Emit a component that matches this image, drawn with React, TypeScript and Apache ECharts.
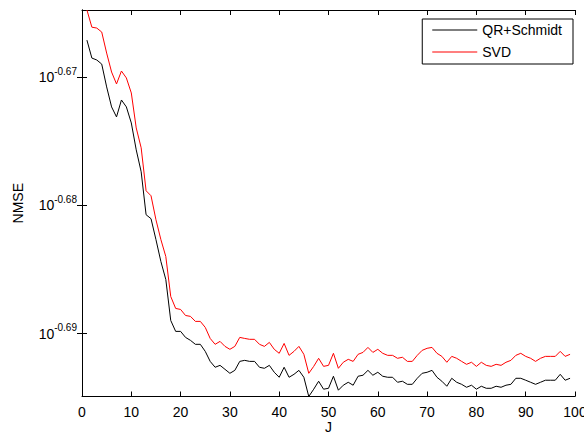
import React, { useEffect, useRef } from "react";
import * as echarts from "echarts";

// log10(NMSE), J = 1..99
const qrSchmidtLog10 = [
  -0.6671, -0.6685, -0.66865, -0.66897, -0.67075, -0.67231, -0.67309, -0.67177, -0.67231, -0.67356,
  -0.67566, -0.67737, -0.68072, -0.68103, -0.68266, -0.68437, -0.68577, -0.68897, -0.68982, -0.68982,
  -0.69029, -0.69052, -0.69083, -0.69083, -0.69138, -0.69216, -0.69262, -0.69247, -0.69278, -0.69309,
  -0.69286, -0.69216, -0.69208, -0.69216, -0.69216, -0.69262, -0.6927, -0.69247, -0.69301, -0.6934,
  -0.69262, -0.6934, -0.69317, -0.69286, -0.6934, -0.6949, -0.69433, -0.69371, -0.69433, -0.69426,
  -0.69332, -0.69441, -0.69402, -0.69379, -0.69402, -0.69332, -0.69324, -0.69286, -0.69324, -0.69301,
  -0.69332, -0.6934, -0.6934, -0.69379, -0.69371, -0.69395, -0.69395, -0.69348, -0.69309, -0.69301,
  -0.69286, -0.6934, -0.69371, -0.6941, -0.69348, -0.69379, -0.69395, -0.69418, -0.69402, -0.69433,
  -0.6941, -0.69426, -0.69426, -0.6941, -0.69418, -0.69402, -0.69395, -0.69348, -0.69348, -0.69363,
  -0.69379, -0.69395, -0.69379, -0.69363, -0.69363, -0.69363, -0.69317, -0.69363, -0.69348,
];

const svdLog10 = [
  -0.66475, -0.66609, -0.66616, -0.66647, -0.66811, -0.66959, -0.67052, -0.66951, -0.67005, -0.67122,
  -0.67395, -0.6755, -0.67885, -0.67924, -0.68111, -0.68266, -0.68398, -0.6871, -0.68803, -0.68811,
  -0.68858, -0.68865, -0.68904, -0.68904, -0.68951, -0.69037, -0.69083, -0.6906, -0.69099, -0.69122,
  -0.69099, -0.69029, -0.69037, -0.69044, -0.69044, -0.69083, -0.69099, -0.69068, -0.69122, -0.69153,
  -0.69076, -0.69169, -0.69138, -0.69099, -0.69161, -0.69309, -0.69255, -0.69192, -0.69255, -0.69247,
  -0.69153, -0.6927, -0.69223, -0.692, -0.69216, -0.69161, -0.69146, -0.69107, -0.69146, -0.69122,
  -0.69153, -0.69169, -0.69169, -0.69192, -0.69184, -0.69216, -0.69216, -0.69169, -0.6913, -0.69114,
  -0.69107, -0.69153, -0.69177, -0.69223, -0.69177, -0.69192, -0.69216, -0.69239, -0.69223, -0.69255,
  -0.69223, -0.69247, -0.69255, -0.69239, -0.69247, -0.69223, -0.69208, -0.69169, -0.69153, -0.69177,
  -0.69192, -0.69216, -0.69192, -0.69177, -0.69177, -0.69177, -0.69138, -0.69177, -0.69161,
];

const jValues = qrSchmidtLog10.map((_, i) => i + 1);
const yTickExponents = [-0.69, -0.68, -0.67];
const seriesNames = ["QR+Schmidt", "SVD"];

const FONT = "'Liberation Sans', Arial, Helvetica, sans-serif";

export default function App() {
  const ref = useRef<HTMLDivElement>(null);

  useEffect(() => {
    if (!ref.current) return;
    const chart = echarts.init(ref.current, undefined, { renderer: "svg" });
    const yMin = -0.6949;
    const yMax = -0.66475;
    const axisLine = { show: true, lineStyle: { color: "#000", width: 1 } };
    const tick = { show: true, inside: true, length: 5, lineStyle: { color: "#000", width: 1 } };
    chart.setOption({
      animation: false,
      backgroundColor: "#fff",
      grid: { left: 82, right: 9, top: 10, bottom: 36.5, containLabel: false, outerBoundsMode: "none" },
      legend: {
        data: seriesNames,
        orient: "vertical",
        right: 11,
        top: 19,
        padding: [4, 11, 5, 10],
        icon: "rect",
        itemWidth: 45,
        itemHeight: 1,
        itemGap: 8,
        borderColor: "#000",
        borderWidth: 1,
        backgroundColor: "#fff",
        textStyle: { fontSize: 14, lineHeight: 14, color: "#000", fontFamily: FONT },
      },
      xAxis: [
        {
          type: "value",
          min: 0,
          max: 100,
          interval: 10,
          position: "bottom",
          name: "J",
          nameLocation: "middle",
          nameGap: 23,
          nameMoveOverlap: false,
          nameTextStyle: { fontSize: 14, color: "#000", fontFamily: FONT },
          axisLine,
          axisTick: tick,
          splitLine: { show: false },
          axisLabel: { fontSize: 14, color: "#000", fontFamily: FONT, margin: 8 },
        },
        {
          type: "value",
          min: 0,
          max: 100,
          interval: 10,
          position: "top",
          axisLine,
          axisTick: tick,
          splitLine: { show: false },
          axisLabel: { show: false },
        },
      ],
      yAxis: [
        {
          type: "value",
          min: yMin,
          max: yMax,
          position: "left",
          name: "NMSE",
          nameLocation: "middle",
          nameGap: 57,
          nameMoveOverlap: false,
          nameTextStyle: { fontSize: 14, color: "#000", fontFamily: FONT },
          axisLine,
          axisTick: { ...tick, customValues: yTickExponents },
          splitLine: { show: false },
          axisLabel: {
            customValues: yTickExponents,
            margin: 5,
            padding: [0, 0, 4, 0],
            formatter: (v: number) => `{b|10}{s|${v.toFixed(2)}}`,
            rich: {
              b: { fontSize: 14, color: "#000", fontFamily: FONT, verticalAlign: "bottom" },
              s: {
                fontSize: 10,
                color: "#000",
                fontFamily: FONT,
                verticalAlign: "top",
                padding: [0, 0, 8, 0],
              },
            },
          },
        },
        {
          type: "value",
          min: yMin,
          max: yMax,
          position: "right",
          axisLine,
          axisTick: { ...tick, customValues: yTickExponents },
          splitLine: { show: false },
          axisLabel: { show: false },
        },
      ],
      series: [
        {
          name: seriesNames[0],
          type: "line",
          xAxisIndex: 0,
          yAxisIndex: 0,
          data: jValues.map((j, i) => [j, qrSchmidtLog10[i]]),
          symbol: "none",
          lineStyle: { color: "#000", width: 1 },
          itemStyle: { color: "#000" },
          clip: true,
        },
        {
          name: seriesNames[1],
          type: "line",
          xAxisIndex: 0,
          yAxisIndex: 0,
          data: jValues.map((j, i) => [j, svdLog10[i]]),
          symbol: "none",
          lineStyle: { color: "#ff0000", width: 1 },
          itemStyle: { color: "#ff0000" },
          clip: true,
        },
      ],
    });
    return () => chart.dispose();
  }, []);

  return (
    <div
      ref={ref}
      style={{ position: "fixed", left: 0, top: 0, width: 584, height: 433, background: "#fff" }}
    />
  );
}
